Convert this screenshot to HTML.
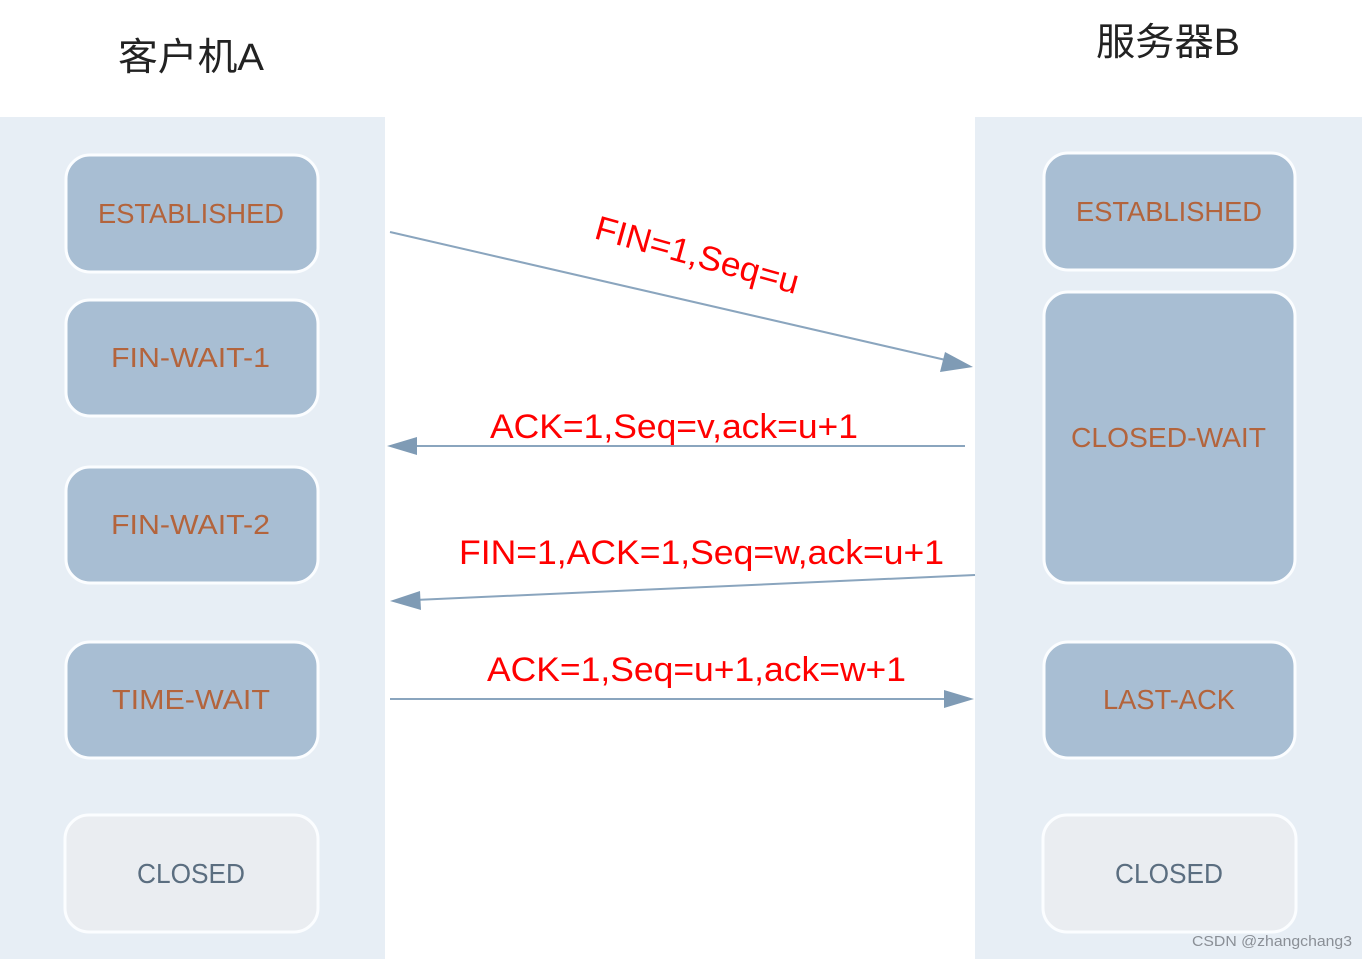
<!DOCTYPE html>
<html><head><meta charset="utf-8"><style>
html,body{margin:0;padding:0;background:#fff;width:1367px;height:959px;overflow:hidden}
svg{display:block}
</style></head><body>
<svg width="1367" height="959" viewBox="0 0 1367 959" xmlns="http://www.w3.org/2000/svg" font-family="'Liberation Sans','Noto Sans CJK SC',sans-serif">
<rect x="0" y="0" width="1367" height="959" fill="#fff"/>
<rect x="0" y="117" width="385" height="842" fill="#e7eef5"/>
<rect x="975" y="117" width="387" height="842" fill="#e7eef5"/>
<text x="118" y="70" font-size="38" fill="#222" textLength="146" lengthAdjust="spacingAndGlyphs">客户机A</text>
<text x="1096" y="55" font-size="38" fill="#222" textLength="144" lengthAdjust="spacingAndGlyphs">服务器B</text>
<g stroke="#fbfdff" stroke-width="3">
<rect x="66" y="155" width="252" height="117" rx="24" fill="#a8bed3"/>
<rect x="66" y="300" width="252" height="116" rx="24" fill="#a8bed3"/>
<rect x="66" y="467" width="252" height="116" rx="24" fill="#a8bed3"/>
<rect x="66" y="642" width="252" height="116" rx="24" fill="#a8bed3"/>
<rect x="65" y="815" width="253" height="117" rx="24" fill="#eaedf1"/>
<rect x="1044" y="153" width="251" height="117" rx="24" fill="#a8bed3"/>
<rect x="1044" y="292" width="251" height="291" rx="24" fill="#a8bed3"/>
<rect x="1044" y="642" width="251" height="116" rx="24" fill="#a8bed3"/>
<rect x="1043" y="815" width="253" height="117" rx="24" fill="#eaedf1"/>
</g>
<g font-size="28" fill="#b3643c">
<text x="98" y="223" textLength="186" lengthAdjust="spacingAndGlyphs">ESTABLISHED</text>
<text x="111" y="367" textLength="159" lengthAdjust="spacingAndGlyphs">FIN-WAIT-1</text>
<text x="111" y="534" textLength="159" lengthAdjust="spacingAndGlyphs">FIN-WAIT-2</text>
<text x="112" y="709" textLength="158" lengthAdjust="spacingAndGlyphs">TIME-WAIT</text>
<text x="1076" y="221" textLength="186" lengthAdjust="spacingAndGlyphs">ESTABLISHED</text>
<text x="1071" y="447" textLength="195" lengthAdjust="spacingAndGlyphs">CLOSED-WAIT</text>
<text x="1103" y="709" textLength="132" lengthAdjust="spacingAndGlyphs">LAST-ACK</text>
</g>
<g font-size="28" fill="#5b6e80">
<text x="137" y="883" textLength="108" lengthAdjust="spacingAndGlyphs">CLOSED</text>
<text x="1115" y="883" textLength="108" lengthAdjust="spacingAndGlyphs">CLOSED</text>
</g>
<g stroke="#8aa5be" stroke-width="2" fill="none">
<line x1="390" y1="232" x2="950" y2="361"/>
<line x1="965" y1="446" x2="410" y2="446"/>
<line x1="975" y1="575" x2="415" y2="600"/>
<line x1="390" y1="699" x2="950" y2="699"/>
</g>
<g fill="#7f9bb5">
<polygon points="973,367 945,352 940,372"/>
<polygon points="387,446 417,437 417,455"/>
<polygon points="390,601 420,591 421,610"/>
<polygon points="974,699 944,690 944,708"/>
</g>
<g font-size="34" fill="#ff0000">
<text transform="translate(593,238) rotate(15.5)" textLength="210" lengthAdjust="spacingAndGlyphs">FIN=1,Seq=u</text>
<text x="490" y="438" textLength="368" lengthAdjust="spacingAndGlyphs">ACK=1,Seq=v,ack=u+1</text>
<text x="459" y="564" textLength="485" lengthAdjust="spacingAndGlyphs">FIN=1,ACK=1,Seq=w,ack=u+1</text>
<text x="487" y="681" textLength="419" lengthAdjust="spacingAndGlyphs">ACK=1,Seq=u+1,ack=w+1</text>
</g>
<text x="1192" y="946" font-size="15" fill="#8a8f96" textLength="160" lengthAdjust="spacingAndGlyphs">CSDN @zhangchang3</text>
</svg>
</body></html>
